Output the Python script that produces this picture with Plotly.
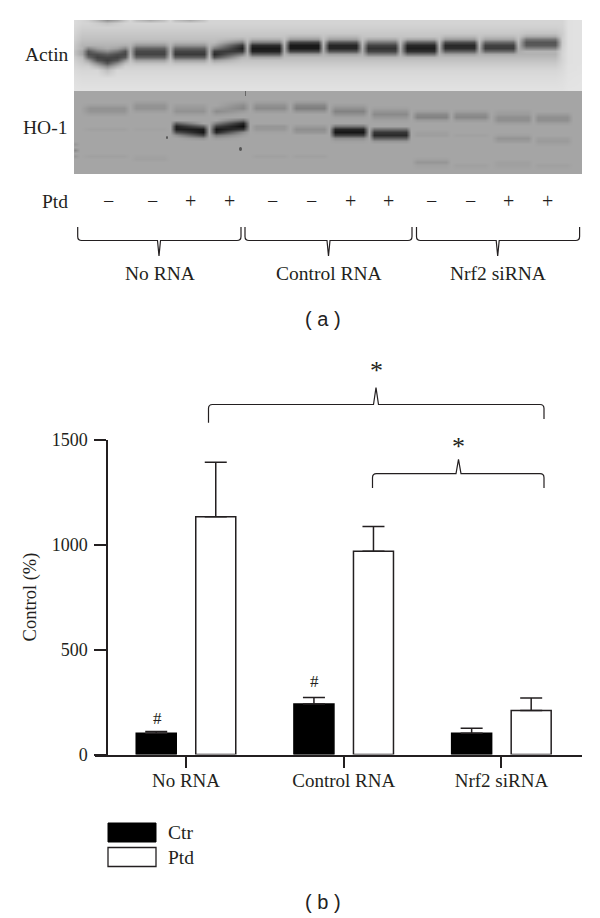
import plotly.graph_objects as go

# ---------- panel (b) data ----------
categories = ["No RNA", "Control RNA", "Nrf2 siRNA"]
ctr_values = [101, 240, 101]
ptd_values = [1132, 968, 209]
ctr_err = [8, 32, 24]
ptd_err = [260, 118, 60]
y_ticks = [0, 500, 1000, 1500]

# ---------- panel (a) blot grey levels read per lane (row y -> grey) ----------
actin_rows = [20, 23, 27, 33, 36, 39, 42, 45, 48, 51, 54, 57, 60, 63, 66, 70, 78, 91]
actin_bg = {20: 212, 23: 212, 27: 208, 33: 200, 36: 196, 39: 192, 42: 186, 45: 180, 48: 174, 51: 172,
            54: 178, 57: 186, 60: 194, 63: 201, 66: 207, 70: 214, 78: 220, 91: 226}
actin_edge = {20: 222, 23: 222, 27: 220, 33: 218, 36: 216, 39: 214, 42: 212, 45: 210, 48: 208, 51: 208,
              54: 210, 57: 212, 60: 214, 63: 216, 66: 218, 70: 220, 78: 224, 91: 228}
actin_columns = [
    (70, actin_edge),
    (82, {48: 178, 51: 165, 54: 165, 57: 185}),
    (88, {20: 205, 45: 178, 48: 135, 51: 85, 54: 78, 57: 105, 60: 160, 63: 190}),
    (97, {20: 180, 23: 205, 45: 178, 48: 160, 51: 120, 54: 78, 57: 66, 60: 85, 63: 140, 66: 180}),
    (107, {20: 145, 23: 195, 48: 172, 51: 140, 54: 95, 57: 70, 60: 62, 63: 85, 66: 140, 70: 190}),
    (117, {20: 165, 23: 205, 45: 178, 48: 160, 51: 115, 54: 76, 57: 66, 60: 85, 63: 140, 66: 180}),
    (125, {20: 195, 45: 172, 48: 135, 51: 80, 54: 70, 57: 88, 60: 150, 63: 188}),
    (130, {}),
    (136, {20: 190, 42: 178, 45: 150, 48: 100, 51: 72, 54: 68, 57: 100, 60: 160, 63: 192}),
    (150, {20: 170, 42: 178, 45: 150, 48: 100, 51: 72, 54: 68, 57: 100, 60: 160, 63: 192}),
    (164, {20: 190, 42: 178, 45: 150, 48: 100, 51: 72, 54: 68, 57: 100, 60: 160, 63: 192}),
    (169.5, {}),
    (175, {20: 190, 42: 178, 45: 150, 48: 100, 51: 68, 54: 58, 57: 95, 60: 160, 63: 192}),
    (190, {20: 170, 42: 178, 45: 150, 48: 100, 51: 68, 54: 58, 57: 95, 60: 160, 63: 192}),
    (204, {20: 195, 42: 178, 45: 150, 48: 100, 51: 68, 54: 58, 57: 95, 60: 160, 63: 192}),
    (209, {}),
    (214, {45: 165, 48: 125, 51: 60, 54: 42, 57: 80, 60: 160, 63: 192}),
    (242, {39: 175, 42: 125, 45: 55, 48: 32, 51: 55, 54: 125, 57: 178}),
    (247, {}),
    (252, {39: 175, 42: 125, 45: 45, 48: 25, 51: 35, 54: 95, 57: 165}),
    (279, {39: 175, 42: 125, 45: 45, 48: 25, 51: 35, 54: 95, 57: 165}),
    (284, {}),
    (290, {36: 185, 39: 155, 42: 65, 45: 25, 48: 25, 51: 70, 54: 155}),
    (318, {36: 185, 39: 155, 42: 65, 45: 25, 48: 25, 51: 70, 54: 155}),
    (323, {}),
    (329, {36: 185, 39: 160, 42: 85, 45: 38, 48: 38, 51: 85, 54: 160}),
    (356, {36: 185, 39: 160, 42: 85, 45: 38, 48: 38, 51: 85, 54: 160}),
    (362, {}),
    (368, {39: 170, 42: 118, 45: 68, 48: 50, 51: 68, 54: 125, 57: 180}),
    (395, {39: 170, 42: 118, 45: 68, 48: 50, 51: 68, 54: 125, 57: 180}),
    (400, {}),
    (407, {39: 168, 42: 95, 45: 40, 48: 30, 51: 48, 54: 115, 57: 180}),
    (434, {39: 168, 42: 95, 45: 40, 48: 30, 51: 48, 54: 115, 57: 180}),
    (439, {}),
    (445, {36: 185, 39: 155, 42: 78, 45: 40, 48: 45, 51: 95, 54: 160}),
    (474, {36: 185, 39: 155, 42: 78, 45: 40, 48: 45, 51: 95, 54: 160}),
    (479, {}),
    (485, {36: 188, 39: 165, 42: 105, 45: 65, 48: 60, 51: 105, 54: 170}),
    (513, {36: 188, 39: 165, 42: 105, 45: 65, 48: 60, 51: 105, 54: 170}),
    (518, {}),
    (526, {33: 195, 36: 172, 39: 118, 42: 85, 45: 90, 48: 130, 51: 180}),
    (555, {33: 195, 36: 172, 39: 118, 42: 85, 45: 90, 48: 130, 51: 180}),
    (562, {20: 212, 23: 212, 27: 210, 33: 205, 36: 205, 39: 205, 42: 203, 45: 205, 48: 208, 51: 210,
           54: 212, 57: 212, 60: 212, 63: 214, 66: 216, 70: 218, 78: 222, 91: 226}),
    (568, {20: 224, 23: 224, 27: 224, 33: 224, 36: 224, 39: 224, 42: 224, 45: 224, 48: 224, 51: 224,
           54: 224, 57: 224, 60: 224, 63: 224, 66: 225, 70: 225, 78: 226, 91: 228}),
    (586, {20: 226, 23: 226, 27: 226, 33: 226, 36: 226, 39: 226, 42: 226, 45: 226, 48: 226, 51: 226,
           54: 226, 57: 226, 60: 226, 63: 226, 66: 226, 70: 226, 78: 228, 91: 228}),
]

ho1_rows = [91, 96, 99, 102, 105, 108, 111, 114, 117, 120, 123, 126, 129, 132, 135, 138, 141, 144, 147,
            150, 153, 156, 159, 162, 165, 170, 175]
ho1_bg = 165
ho1_columns = [
    (70, {}),
    (75, {144: 152, 150: 138, 156: 152}),
    (80, {}),
    (90, {105: 158, 108: 146, 111: 148, 114: 158, 129: 160, 156: 160}),
    (124, {105: 158, 108: 146, 111: 148, 114: 158, 129: 160, 156: 160}),
    (130, {}),
    (136, {102: 158, 105: 148, 108: 146, 111: 158, 129: 162, 156: 162, 159: 160}),
    (164, {102: 158, 105: 148, 108: 146, 111: 158, 129: 162, 156: 162, 159: 160}),
    (170, {}),
    (176, {105: 158, 108: 152, 111: 146, 114: 158, 123: 95, 126: 35, 129: 30, 132: 80, 135: 145}),
    (203, {105: 158, 108: 152, 111: 146, 114: 158, 126: 95, 129: 28, 132: 22, 135: 70, 138: 145}),
    (209, {}),
    (216, {108: 155, 111: 140, 114: 155, 123: 125, 126: 65, 129: 22, 132: 38, 135: 120, 138: 155}),
    (243, {102: 155, 105: 140, 108: 135, 111: 155, 120: 112, 123: 36, 126: 15, 129: 55, 132: 140, 135: 158}),
    (250, {}),
    (256, {102: 158, 105: 145, 108: 138, 111: 155, 126: 150, 129: 152, 132: 162, 156: 160}),
    (284, {102: 158, 105: 145, 108: 138, 111: 155, 126: 150, 129: 152, 132: 162, 156: 160}),
    (290, {}),
    (296, {102: 155, 105: 135, 108: 126, 111: 148, 126: 155, 129: 143, 132: 150, 156: 160}),
    (324, {102: 155, 105: 135, 108: 126, 111: 148, 126: 155, 129: 143, 132: 150, 156: 160}),
    (329, {}),
    (335, {105: 158, 108: 145, 111: 130, 114: 145, 117: 160, 126: 118, 129: 38, 132: 22, 135: 65, 138: 142, 141: 160}),
    (363, {105: 158, 108: 145, 111: 130, 114: 145, 117: 160, 126: 118, 129: 38, 132: 22, 135: 65, 138: 142, 141: 160}),
    (369, {}),
    (374, {108: 160, 111: 148, 114: 138, 117: 150, 120: 160, 129: 110, 132: 55, 135: 42, 138: 95, 141: 150}),
    (406, {108: 160, 111: 148, 114: 138, 117: 150, 120: 160, 129: 110, 132: 55, 135: 42, 138: 95, 141: 150}),
    (411, {}),
    (417, {111: 158, 114: 138, 117: 130, 120: 155, 132: 160, 135: 158, 159: 160, 162: 150, 165: 160}),
    (446, {111: 158, 114: 138, 117: 130, 120: 155, 132: 160, 135: 158, 159: 160, 162: 150, 165: 160}),
    (451, {}),
    (456, {111: 158, 114: 142, 117: 135, 120: 155, 135: 161, 165: 160}),
    (485, {111: 158, 114: 142, 117: 135, 120: 155, 135: 161, 165: 160}),
    (491, {}),
    (498, {111: 160, 114: 155, 117: 143, 120: 143, 123: 158, 135: 160, 138: 148, 141: 155, 162: 160, 165: 160}),
    (528, {111: 160, 114: 155, 117: 143, 120: 143, 123: 158, 135: 160, 138: 148, 141: 155, 162: 160, 165: 160}),
    (533, {}),
    (538, {114: 155, 117: 143, 120: 143, 123: 158, 138: 158, 141: 155, 144: 161, 165: 160}),
    (567, {114: 155, 117: 143, 120: 143, 123: 158, 138: 158, 141: 155, 144: 161, 165: 160}),
    (573, {}),
    (586, {}),
]

ptd_signs = ["\u2212", "\u2212", "+", "+"] * 3

W, H = 600, 918
INK = "#231f20"
SERIF = "Liberation Serif"
GREY_SCALE = [[0, "#000000"], [1, "#ffffff"]]


def ypaper(px):
    return 1 - px / H


def grid(columns, rows, background):
    xs = [c[0] for c in columns]
    bg = background if isinstance(background, dict) else {r: background for r in rows}
    z = [[c[1].get(r, bg[r]) for c in columns] for r in rows]
    return xs, z


fig = go.Figure()

# bars
fig.add_trace(go.Bar(name="Ctr", x=categories, y=ctr_values, xaxis="x", yaxis="y",
                     marker=dict(color="#000000", line=dict(color="#000000", width=1.5)),
                     error_y=dict(type="data", array=ctr_err, arrayminus=[0, 0, 0], symmetric=False,
                                  color=INK, thickness=1.5, width=11),
                     showlegend=False))
fig.add_trace(go.Bar(name="Ptd", x=categories, y=ptd_values, xaxis="x", yaxis="y",
                     marker=dict(color="#ffffff", line=dict(color=INK, width=1.5)),
                     error_y=dict(type="data", array=ptd_err, arrayminus=[0, 0, 0], symmetric=False,
                                  color=INK, thickness=1.5, width=11),
                     showlegend=False))

# blots
ax, az = grid(actin_columns, actin_rows, actin_bg)
fig.add_trace(go.Heatmap(x=ax, y=actin_rows, z=az, xaxis="x3", yaxis="y3", zmin=0, zmax=255,
                         colorscale=GREY_SCALE, showscale=False, zsmooth="best", hoverinfo="skip"))
hx, hz = grid(ho1_columns, ho1_rows, ho1_bg)
fig.add_trace(go.Heatmap(x=hx, y=ho1_rows, z=hz, xaxis="x4", yaxis="y4", zmin=0, zmax=255,
                         colorscale=GREY_SCALE, showscale=False, zsmooth="best", hoverinfo="skip"))

shapes = []


def page_shape(**kw):
    shapes.append(dict(xref="x2", yref="y2", **kw))


def brace_down(x0, x1, xs, ytop, ymid, ytip):
    p = (f"M {x0},{ytop} L {x0},{ymid-4} Q {x0},{ymid} {x0+4},{ymid} L {xs-1.5},{ymid} L {xs},{ytip} "
         f"L {xs+1.5},{ymid} L {x1-4},{ymid} Q {x1},{ymid} {x1},{ymid-4} L {x1},{ytop}")
    page_shape(type="path", path=p, line=dict(color=INK, width=1.2))


def brace_up(x0, x1, xs, yleft, yright, ymid, ytip):
    p = (f"M {x0},{yleft} L {x0},{ymid+4} Q {x0},{ymid} {x0+4},{ymid} L {xs-2.5},{ymid} L {xs},{ytip} "
         f"L {xs+2.5},{ymid} L {x1-4},{ymid} Q {x1},{ymid} {x1},{ymid+4} L {x1},{yright}")
    page_shape(type="path", path=p, line=dict(color=INK, width=1.2))


brace_down(77.7, 241, 159, 227, 240.5, 256)
brace_down(245, 412, 328.5, 227, 240.5, 256)
brace_down(416.5, 579.6, 497.7, 227, 240.5, 256)
brace_up(208.5, 544, 376, 422.7, 419, 404.5, 387.7)
brace_up(372.5, 544, 458.5, 488, 488, 473.7, 459.3)

# legend boxes
page_shape(type="rect", x0=108, x1=156, y0=823, y1=842, fillcolor="#000000", line=dict(color="#000000", width=1))
page_shape(type="rect", x0=108, x1=156, y0=847.5, y1=866.5, fillcolor="#ffffff", line=dict(color=INK, width=1.3))

# blot specks
page_shape(type="circle", x0=166, x1=168, y0=136, y1=139, fillcolor="#555555", line=dict(width=0))
page_shape(type="circle", x0=239, x1=242, y0=147, y1=151, fillcolor="#555555", line=dict(width=0))
page_shape(type="line", x0=245.5, x1=245.5, y0=91, y1=96, line=dict(color="#666666", width=1))

annotations = []


def note(text, x, y, size=19.5, family=SERIF, anchor="center", color=INK):
    annotations.append(dict(text=text, x=x, y=y, xref="x2", yref="y2", showarrow=False, xanchor=anchor,
                            yanchor="middle", font=dict(family=family, size=size, color=color)))


note("Actin", 70.5, 54, anchor="right")
note("HO-1", 69, 127, anchor="right")
note("Ptd", 70, 201, anchor="right")
for sign, x in zip(ptd_signs, [108, 152, 190, 229, 272, 311, 350, 388, 431, 470, 508, 547]):
    note(sign, x, 201, size=20)
note("No RNA", 159.5, 273.5)
note("Control RNA", 328.5, 273.5)
note("Nrf2 siRNA", 498, 273.5)
note("( a )", 323, 319, size=20, family="Liberation Sans", color="#222222")
note("( b )", 323, 902, size=20, family="Liberation Sans", color="#222222")
note("*", 376.5, 370, size=26)
note("*", 458.5, 446, size=26)
note("#", 157, 718, size=17)
note("#", 314, 681, size=17)
note("Ctr", 166, 832, anchor="left")
note("Ptd", 166, 857, anchor="left")

hidden = dict(visible=False, showgrid=False, zeroline=False, fixedrange=True)

fig.update_layout(
    width=W, height=H, margin=dict(l=0, r=0, t=0, b=0, pad=0), autosize=False,
    paper_bgcolor="#ffffff", plot_bgcolor="rgba(0,0,0,0)",
    font=dict(family=SERIF, color=INK, size=18),
    barmode="group", bargap=0.245, bargroupgap=0.328, showlegend=False,
    xaxis=dict(domain=[95 / W, 582 / W], range=[-0.577, 2.511], type="category", anchor="y",
               categoryorder="array", categoryarray=categories, automargin=False,
               showline=True, linecolor=INK, linewidth=1.5, ticks="outside", ticklen=12,
               tickwidth=1.5, tickcolor=INK, showgrid=False, zeroline=False, ticklabelstandoff=-4,
               tickfont=dict(family=SERIF, size=19, color=INK)),
    yaxis=dict(domain=[ypaper(754.5), ypaper(439.5)], range=[0, 1500], anchor="free",
               position=107 / W, tickvals=y_ticks, showline=True, linecolor=INK, linewidth=1.5,
               ticks="outside", ticklen=12, tickwidth=1.5, tickcolor=INK, showgrid=False, zeroline=False,
               automargin=False, ticklabelstandoff=3,
               tickfont=dict(family=SERIF, size=18, color=INK),
               title=dict(text="Control (%)", font=dict(family=SERIF, size=18.5, color=INK), standoff=9)),
    xaxis2=dict(domain=[0, 1], range=[0, W], anchor="y2", **hidden),
    yaxis2=dict(domain=[0, 1], range=[H, 0], anchor="x2", **hidden),
    xaxis3=dict(domain=[74 / W, 582 / W], range=[74, 582], anchor="y3", **hidden),
    yaxis3=dict(domain=[ypaper(91), ypaper(20)], range=[91, 20], anchor="x3", **hidden),
    xaxis4=dict(domain=[74 / W, 582 / W], range=[74, 582], anchor="y4", **hidden),
    yaxis4=dict(domain=[ypaper(174), ypaper(91)], range=[174, 91], anchor="x4", **hidden),
    shapes=shapes, annotations=annotations,
)

fig.write_html("out.html", config=dict(displayModeBar=False),
               post_script="document.body.style.margin='0';")
